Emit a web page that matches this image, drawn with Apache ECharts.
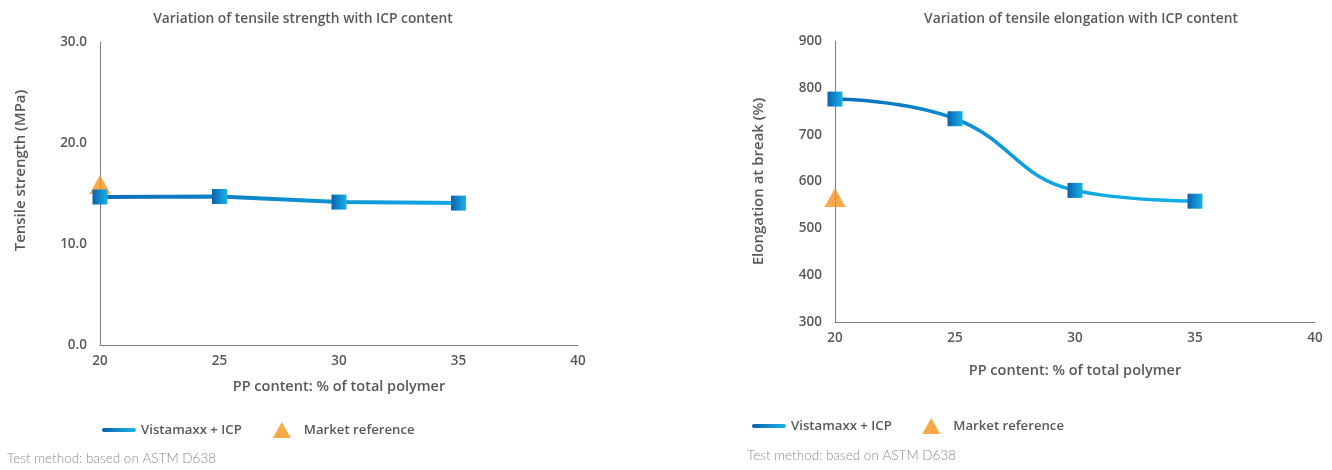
<!DOCTYPE html>
<html><head><meta charset="utf-8">
<script src="https://cdn.jsdelivr.net/npm/echarts@6/dist/echarts.min.js"></script>
<style>html,body{margin:0;padding:0;background:#fff;}#c{width:1332px;height:470px;}</style>
</head><body><div id="c"></div>
<script>
// ---- data ----
const ppContent = [20, 25, 30, 35];
const strengthVistamaxx = [14.65, 14.7, 14.15, 14.05];
const strengthMarket = [[20, 15.9]];
const elongationVistamaxx = [776, 734, 581, 558];
const elongationMarket = [[20, 566]];
const xTicks = [20, 25, 30, 35, 40];
const strengthTicks = [0, 10, 20, 30];
const elongationTicks = [300, 400, 500, 600, 700, 800, 900];

const FONT = '"Open Sans", "Noto Sans", sans-serif';
const GREY = '#595959';
const AXIS = '#7f7f7f';
const ORANGE = '#f7941d';

const sqGrad = new echarts.graphic.LinearGradient(0,0,1,0,[{offset:0,color:'#0a62ad'},{offset:1,color:'#17b2e8'}]);
const lineGradH = new echarts.graphic.LinearGradient(0,0,1,0,[{offset:0,color:'#0a6db9'},{offset:1,color:'#13aae2'}]);
const lineGradD = new echarts.graphic.LinearGradient(0,0,1,1,[{offset:0,color:'#0a6db9'},{offset:0.6,color:'#0ea6e0'},{offset:1,color:'#13b0e6'}]);
const legGrad = new echarts.graphic.LinearGradient(0,0,1,0,[{offset:0,color:'#0a62ad'},{offset:1,color:'#20b4ea'}]);

const lineIcon = 'path://M2,0 L32,0 A2,2 0 0 1 32,4 L2,4 A2,2 0 0 1 2,0 Z';
const triIcon = 'path://M9,0 L18,16 L0,16 Z';

function xAxisDef(gi, gap){
  return {gridIndex: gi, type:'value', min:20, max:40, interval:5,
    axisLine:{show:true, onZero:false, lineStyle:{color:AXIS, width:1}},
    axisTick:{show:false}, splitLine:{show:false},
    axisLabel:{color:GREY, fontFamily:FONT, fontWeight:600, fontSize:13.5, margin:9,
      formatter: v => xTicks.includes(v) ? String(v) : ''},
    name:'PP content: % of total polymer', nameLocation:'middle', nameGap:gap,
    nameTextStyle:{color:GREY, fontFamily:FONT, fontWeight:600, fontSize:14.5}};
}
function yAxisDef(gi, min, max, interval, ticks, fmt, name, gap, pad){
  return {gridIndex: gi, type:'value', min, max, interval,
    axisLine:{show:true, lineStyle:{color:AXIS, width:1}},
    axisTick:{show:false}, splitLine:{show:false},
    axisLabel:{color:GREY, fontFamily:FONT, fontWeight:600, fontSize:13.5, margin:13,
      formatter: v => ticks.includes(v) ? fmt(v) : ''},
    name, nameLocation:'middle', nameGap:gap, nameRotate:90,
    nameTextStyle:{color:GREY, fontFamily:FONT, fontWeight:600, fontSize:15, padding:pad}};
}

const chart = echarts.init(document.getElementById('c'), null, {renderer:'canvas'});
chart.setOption({
  animation:false,
  backgroundColor:'#fff',
  textStyle:{fontFamily:FONT},
  title:[
    {text:'Variation of tensile strength with ICP content', left:298, top:7, textAlign:'center',
      textStyle:{color:GREY, fontFamily:FONT, fontWeight:600, fontSize:13.8}},
    {text:'Variation of tensile elongation with ICP content', left:1076, top:7, textAlign:'center',
      textStyle:{color:GREY, fontFamily:FONT, fontWeight:600, fontSize:13.8}}
  ],
  grid:[
    {left:100, right:1332-578, top:42, bottom:470-345},
    {left:835, right:1332-1315, top:41, bottom:470-322}
  ],
  xAxis:[xAxisDef(0, 34), xAxisDef(1, 41)],
  yAxis:[
    yAxisDef(0, 0, 30, 10, strengthTicks, v => v.toFixed(1), 'Tensile strength (MPa)', 72, [0,0,0,46]),
    yAxisDef(1, 300, 900, 100, elongationTicks, v => String(v), 'Elongation at break (%)', 69, [0,0,0,0])
  ],
  legend:[
    {left:97, top:417, itemWidth:34, itemHeight:16, itemGap:31, symbolKeepAspect:true,
      textStyle:{color:GREY, fontFamily:FONT, fontWeight:600, fontSize:13.2},
      data:[{name:'Vistamaxx + ICP', icon:lineIcon, itemStyle:{color:legGrad}},
            {name:'Market reference', icon:triIcon, itemStyle:{color:ORANGE}}]},
    {left:747, top:413, itemWidth:34, itemHeight:16, itemGap:27, symbolKeepAspect:true,
      textStyle:{color:GREY, fontFamily:FONT, fontWeight:600, fontSize:13.2},
      data:[{name:'Vistamaxx + ICP ', icon:lineIcon, itemStyle:{color:legGrad}},
            {name:'Market reference ', icon:triIcon, itemStyle:{color:ORANGE}}]}
  ],
  graphic:[
    {type:'text', left:7, top:452, style:{text:'Test method: based on ASTM D638', fill:'#8c8c8c', font:'300 13.5px Lato, "Open Sans", sans-serif'}},
    {type:'text', left:747, top:449, style:{text:'Test method: based on ASTM D638', fill:'#8c8c8c', font:'300 13.5px Lato, "Open Sans", sans-serif'}}
  ],
  series:[
    {name:'Market reference', type:'scatter', xAxisIndex:0, yAxisIndex:0, z:1,
      symbol:'triangle', symbolSize:[21,19], itemStyle:{color:ORANGE}, data:strengthMarket},
    {name:'Vistamaxx + ICP', type:'line', xAxisIndex:0, yAxisIndex:0, z:3,
      data: ppContent.map((x,i)=>[x, strengthVistamaxx[i]]),
      symbol:'rect', symbolSize:15, showAllSymbol:true,
      lineStyle:{width:4, color:lineGradH}, itemStyle:{color:sqGrad}},
    {name:'Market reference ', type:'scatter', xAxisIndex:1, yAxisIndex:1, z:1,
      symbol:'triangle', symbolSize:[21,19], itemStyle:{color:ORANGE}, data:elongationMarket},
    {name:'Vistamaxx + ICP ', type:'line', xAxisIndex:1, yAxisIndex:1, z:3, smooth:0.45,
      data: ppContent.map((x,i)=>[x, elongationVistamaxx[i]]),
      symbol:'rect', symbolSize:15, showAllSymbol:true,
      lineStyle:{width:3.5, color:lineGradD}, itemStyle:{color:sqGrad}}
  ]
});
</script></body></html>
